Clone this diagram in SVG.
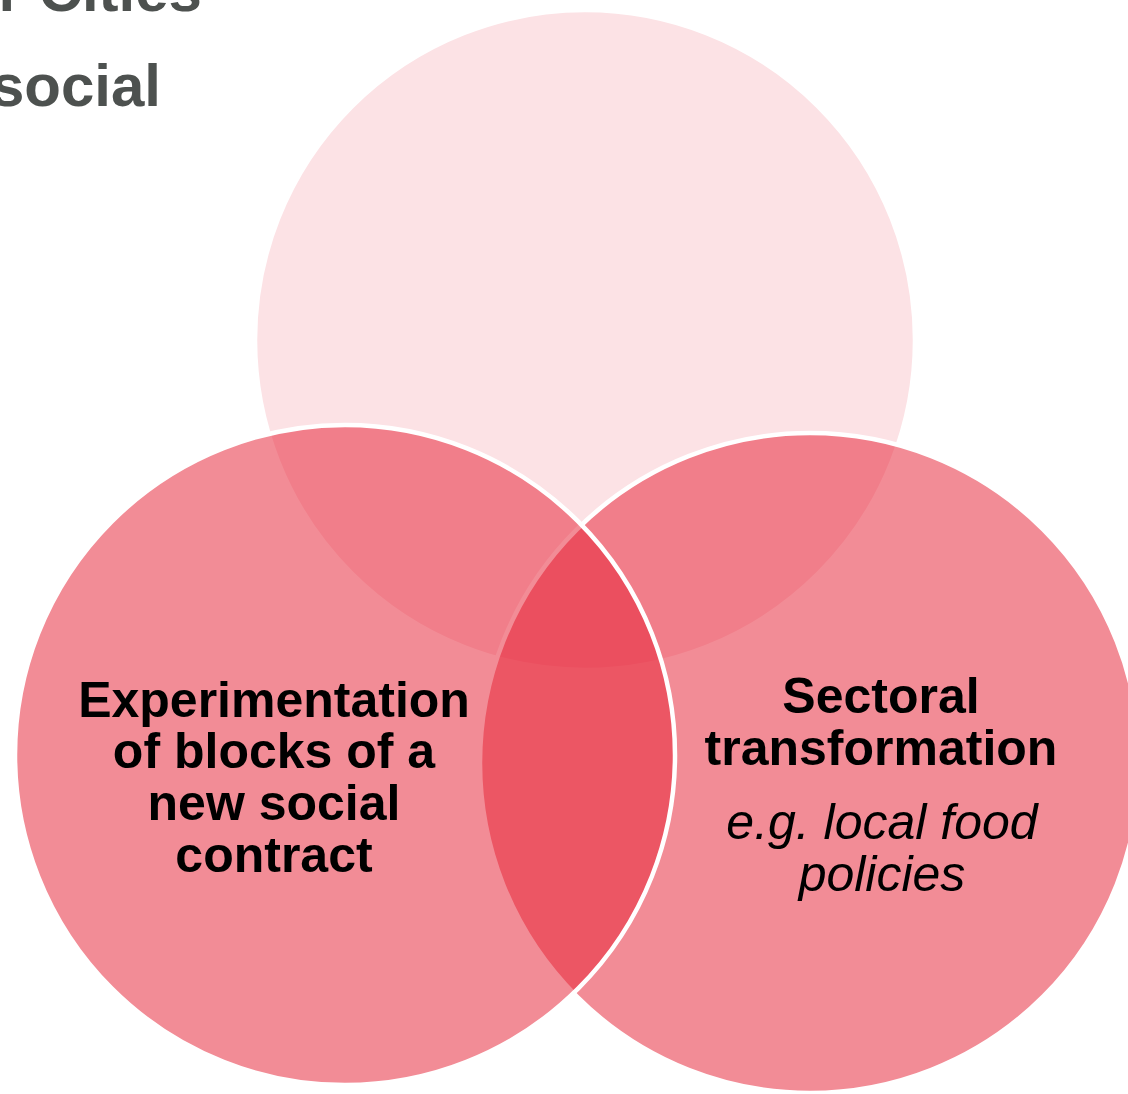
<svg xmlns="http://www.w3.org/2000/svg" width="1128" height="1094" viewBox="0 0 1128 1094">
  <style>
    .circ { fill: #E62639; stroke: #FFFFFF; stroke-width: 4.5; }
    .title { font-family: "Liberation Sans", Arial, sans-serif; font-weight: bold; font-size: 60px; fill: #4D514F; }
    .lbl { font-family: "Liberation Sans", Arial, sans-serif; font-weight: bold; font-size: 50px; fill: #000000; text-anchor: middle; }
    .sub { font-family: "Liberation Sans", Arial, sans-serif; font-style: italic; font-size: 50px; fill: #000000; text-anchor: middle; }
  </style>
  <rect x="0" y="0" width="1128" height="1094" fill="#FFFFFF"/>
  <g id="title">
    <text class="title" x="202" y="11" text-anchor="end">r Cities</text>
    <text class="title" x="161" y="106" text-anchor="end">social</text>
  </g>
  <g id="node-top">
    <circle class="circ" cx="585" cy="340" r="330" fill-opacity="0.134"/>
  </g>
  <g id="node-right">
    <circle class="circ" cx="810" cy="763" r="330" fill-opacity="0.53"/>
    <text class="lbl" x="881" y="713">Sectoral</text>
    <text class="lbl" x="881" y="765">transformation</text>
    <text class="sub" x="882" y="839">e.g. local food</text>
    <text class="sub" x="882" y="891">policies</text>
  </g>
  <g id="node-left">
    <circle class="circ" cx="345" cy="755" r="330" fill-opacity="0.53"/>
    <text class="lbl" x="274" y="717">Experimentation</text>
    <text class="lbl" x="274" y="768">of blocks of a</text>
    <text class="lbl" x="274" y="820">new social</text>
    <text class="lbl" x="274" y="872">contract</text>
  </g>
  <g id="connectors"></g>
</svg>
